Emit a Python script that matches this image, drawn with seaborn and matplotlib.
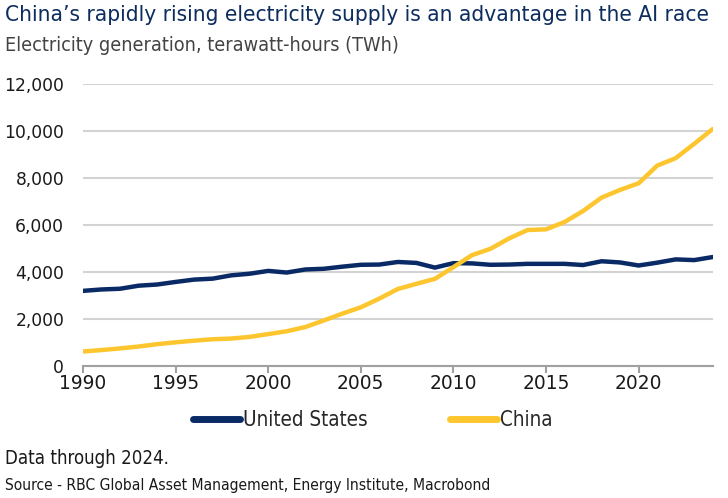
import pandas as pd
import matplotlib
matplotlib.use("Agg")
import matplotlib.pyplot as plt
import seaborn as sns
from matplotlib.ticker import FuncFormatter

# data (TWh)
years = list(range(1990, 2025))
us = [3200, 3260, 3290, 3420, 3470, 3580, 3680, 3720, 3860, 3930,
      4050, 3980, 4110, 4140, 4230, 4310, 4320, 4430, 4390, 4190,
      4380, 4370, 4310, 4320, 4350, 4350, 4350, 4300, 4460, 4410,
      4280, 4400, 4540, 4510, 4640]
china = [620, 680, 750, 830, 930, 1010, 1080, 1140, 1170, 1240,
         1360, 1480, 1660, 1940, 2230, 2500, 2870, 3280, 3500, 3710,
         4210, 4720, 4990, 5430, 5790, 5820, 6130, 6600, 7170, 7500,
         7780, 8530, 8850, 9460, 10090]
series = ["United States", "China"]
colors = ["#0a2a66", "#fdc62f"]

df = pd.DataFrame({
    "year": years * 2,
    "twh": us + china,
    "country": ["United States"] * len(years) + ["China"] * len(years),
})

sns.set_theme(style="white")
plt.rcParams["font.family"] = ["DejaVu Sans"]
COND = dict(family="DejaVu Sans", fontstretch="condensed")

fig = plt.figure(figsize=(7.28, 4.98), dpi=100)
ax = fig.add_axes([0.114, 0.265, 0.865, 0.566])

sns.lineplot(data=df, x="year", y="twh", hue="country", hue_order=series,
             palette=colors, linewidth=3.2, ax=ax, legend=False)

ax.set_xlim(1990, 2024)
ax.set_ylim(0, 12000)
ax.set_xticks(range(1990, 2025, 5))
ax.set_yticks(range(0, 12001, 2000))
ax.yaxis.set_major_formatter(FuncFormatter(lambda v, p: f"{int(v):,}"))
ax.grid(axis="y", color="#d3d3d3", linewidth=1.5)
ax.set_axisbelow(True)
for s in ["top", "right", "left"]:
    ax.spines[s].set_visible(False)
ax.spines["bottom"].set_color("#a0a0a0")
ax.spines["bottom"].set_linewidth(1.5)
ax.tick_params(axis="x", bottom=True, length=5, width=1.5, color="#a0a0a0",
               labelsize=13.4, labelcolor="#1a1a1a", pad=1)
ax.tick_params(axis="y", left=False, labelsize=12.3, labelcolor="#1a1a1a", pad=7.5)
ax.set_xlabel("")
ax.set_ylabel("")

fig.text(0.007, 0.97, "China’s rapidly rising electricity supply is an advantage in the AI race",
         fontsize=16.2, color="#0d2d5e", va="center", **COND)
fig.text(0.007, 0.908, "Electricity generation, terawatt-hours (TWh)",
         fontsize=14.2, color="#444444", va="center", **COND)

handles = [plt.Line2D([], [], color=c, linewidth=5) for c in colors]
fig.legend(handles, series, loc="center", bbox_to_anchor=(0.512, 0.157), ncol=2,
           frameon=False, handlelength=2.28, handletextpad=0.15,
           columnspacing=4.0, prop=dict(size=14.8, **{"stretch": "condensed"}))

fig.text(0.007, 0.08, "Data through 2024.", fontsize=13.4, color="#1a1a1a",
         va="center", **COND)
fig.text(0.007, 0.026, "Source - RBC Global Asset Management, Energy Institute, Macrobond",
         fontsize=11.2, color="#1a1a1a", va="center", **COND)

fig.savefig("out.png", dpi=100)
